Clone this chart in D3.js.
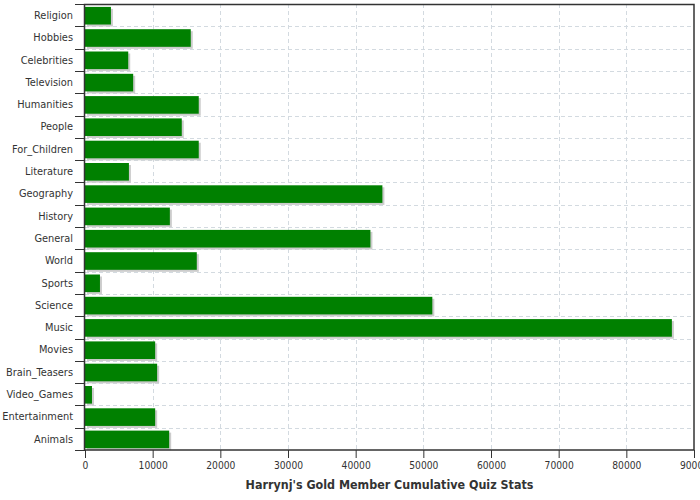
<!DOCTYPE html>
<html>
<head>
<meta charset="utf-8">
<script src="https://cdn.jsdelivr.net/npm/d3@7"></script>
<style>
  body { margin: 0; background: #fff; }
  svg { display: block; font-family: "DejaVu Sans Condensed", "DejaVu Sans", sans-serif; }
</style>
</head>
<body>
<svg id="chart" width="700" height="500"></svg>
<script>
const categories = ["Religion","Hobbies","Celebrities","Television","Humanities","People","For_Children","Literature","Geography","History","General","World","Sports","Science","Music","Movies","Brain_Teasers","Video_Games","Entertainment","Animals"];
const values = [3830, 15630, 6390, 7120, 16810, 14300, 16810, 6490, 43950, 12540, 42180, 16520, 2210, 51330, 86730, 10370, 10660, 1030, 10370, 12440];
const xTicks = [0, 10000, 20000, 30000, 40000, 50000, 60000, 70000, 80000, 90000];
const title = "Harrynj's Gold Member Cumulative Quiz Stats";

const svg = d3.select("#chart");
const m = {left: 85, right: 6, top: 4, bottom: 50};
const W = 700, H = 500;
const iw = W - m.left - m.right, ih = H - m.top - m.bottom;
const font = "DejaVu Sans Condensed, DejaVu Sans, sans-serif";

const x = d3.scaleLinear().domain([0, 90000]).range([0, iw]);
const y = d3.scaleBand().domain(categories).range([0, ih]).paddingInner(0);

const g = svg.append("g").attr("transform", `translate(${m.left},${m.top})`);

// grid
const gridColor = "#d3dae0";
g.append("g").selectAll("line").data(xTicks.slice(1, -1)).join("line")
  .attr("x1", d => Math.round(x(d)) + 0.5).attr("x2", d => Math.round(x(d)) + 0.5)
  .attr("y1", 0).attr("y2", ih)
  .attr("stroke", gridColor).attr("stroke-dasharray", "4,3");
g.append("g").selectAll("line").data(categories.slice(1)).join("line")
  .attr("x1", 0).attr("x2", iw)
  .attr("y1", d => Math.round(y(d)) + 0.5).attr("y2", d => Math.round(y(d)) + 0.5)
  .attr("stroke", gridColor).attr("stroke-dasharray", "4,3");

const bw = y.bandwidth();
const data = categories.map((c, i) => ({c, v: values[i]}));
// shadows
g.append("g").selectAll("rect").data(data).join("rect")
  .attr("x", 2).attr("y", d => y(d.c) + bw * 0.13 + 2)
  .attr("width", d => x(d.v)).attr("height", bw * 0.79)
  .attr("fill", "#cccccc");
// bars
g.append("g").selectAll("rect").data(data).join("rect")
  .attr("x", 0).attr("y", d => y(d.c) + bw * 0.13)
  .attr("width", d => x(d.v)).attr("height", bw * 0.79)
  .attr("fill", "#008000");

// frame
g.append("rect").attr("x", -0.5).attr("y", 0.5).attr("width", iw + 0.5).attr("height", ih - 0.5)
  .attr("fill", "none").attr("stroke", "#333").attr("stroke-width", 1.5);

// axes
const xAxis = g.append("g").attr("transform", `translate(0,${ih})`)
  .call(d3.axisBottom(x).tickValues(xTicks).tickFormat(d3.format("d")).tickSize(8).tickPadding(4));
xAxis.select(".domain").remove();
xAxis.selectAll("line").attr("stroke", "#333");
xAxis.selectAll("text").attr("fill", "#333").style("font-size", "10.2px").style("font-family", font);

// y ticks at band boundaries
g.append("g").selectAll("line").data(d3.range(categories.length + 1)).join("line")
  .attr("x1", -10).attr("x2", 0)
  .attr("y1", i => Math.round(i * bw) + 0.5).attr("y2", i => Math.round(i * bw) + 0.5)
  .attr("stroke", "#333");
g.append("g").selectAll("text").data(categories).join("text")
  .attr("x", -12).attr("y", d => y(d) + bw / 2).attr("dy", "0.35em")
  .attr("text-anchor", "end").attr("fill", "#333")
  .style("font-size", "10.9px").style("font-family", font).text(d => d);

svg.append("text").attr("x", m.left + iw / 2).attr("y", 489)
  .attr("text-anchor", "middle").attr("fill", "#333")
  .style("font-size", "12.4px").style("font-weight", "bold").style("font-family", font).text(title);
</script>
</body>
</html>
